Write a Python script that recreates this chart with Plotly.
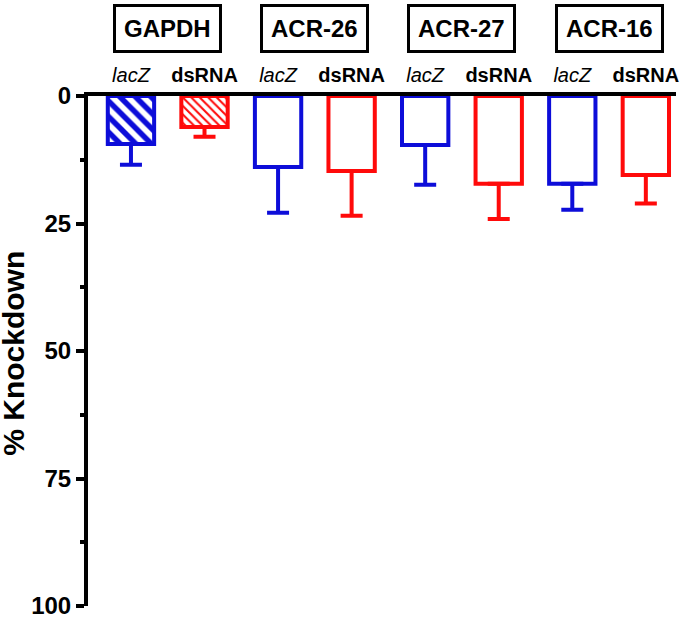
import plotly.graph_objects as go

groups = ["GAPDH", "ACR-26", "ACR-27", "ACR-16"]
conditions = ["lacZ", "dsRNA"]
lacz_mean = [9.4, 13.9, 9.6, 17.2]
lacz_err = [4.1, 9.0, 7.8, 5.1]
dsrna_mean = [6.1, 14.7, 17.2, 15.5]
dsrna_err = [1.9, 8.8, 6.9, 5.6]
y_ticks = [0, 25, 50, 75, 100]

blue = "#0d0dd9"
red = "#ff0a0a"
font_family = "Arial, Liberation Sans, sans-serif"

lacz_x = [2 * i for i in range(len(groups))]
dsrna_x = [2 * i + 1 for i in range(len(groups))]


def bar_trace(x, y, err, color, size, solidity):
    return go.Bar(
        x=x,
        y=y,
        width=0.63,
        marker=dict(
            color="white",
            line=dict(color=color, width=4),
            pattern=dict(
                shape=["\\", "", "", ""],
                fgcolor=color,
                fgopacity=1,
                bgcolor="white",
                size=size,
                solidity=solidity
            )
        ),
        error_y=dict(
            type="data",
            symmetric=False,
            array=err,
            arrayminus=[0] * len(err),
            color=color,
            thickness=4,
            width=11
        ),
        showlegend=False
    )


fig = go.Figure()
fig.add_trace(bar_trace(lacz_x, lacz_mean, lacz_err, blue, 11, 0.5))
fig.add_trace(bar_trace(dsrna_x, dsrna_mean, dsrna_err, red, 6, 0.35))

tick_text = []
for g in groups:
    tick_text += ["<i>lacZ</i>", "<b>dsRNA</b>"]

fig.update_xaxes(
    side="top",
    range=[-0.584, 7.41],
    tickvals=list(range(2 * len(groups))),
    ticktext=tick_text,
    tickfont=dict(family=font_family, size=20, color="black"),
    ticks="",
    ticklabelstandoff=2,
    showline=True,
    linecolor="black",
    linewidth=4,
    showgrid=False,
    zeroline=False,
    automargin=False
)
fig.update_yaxes(
    range=[100, 0],
    tickvals=y_ticks,
    ticktext=[f"<b>{v}</b>" for v in y_ticks],
    tickfont=dict(family=font_family, size=24, color="black"),
    ticklabeloverflow="allow",
    ticks="outside",
    ticklen=8,
    tickwidth=4,
    tickcolor="black",
    minor=dict(
        tick0=0,
        dtick=12.5,
        ticks="outside",
        ticklen=4,
        tickwidth=4,
        tickcolor="black"
    ),
    showline=True,
    linecolor="black",
    linewidth=4,
    showgrid=False,
    zeroline=False,
    automargin=False
)

for i, g in enumerate(groups):
    fig.add_annotation(
        x=2 * i + 0.5,
        y=1.133,
        xref="x",
        yref="paper",
        yanchor="middle",
        text=f"<b>{g}</b>",
        showarrow=False,
        font=dict(family=font_family, size=24, color="black"),
        bordercolor="black",
        borderwidth=3,
        borderpad=8,
        bgcolor="white"
    )

fig.add_annotation(
    x=-0.128,
    y=0.496,
    xref="paper",
    yref="paper",
    text="<b>% Knockdown</b>",
    textangle=-90,
    showarrow=False,
    xanchor="center",
    yanchor="middle",
    font=dict(family=font_family, size=30, color="black")
)

fig.update_layout(
    width=680,
    height=618,
    margin=dict(l=88, r=4, t=96, b=12),
    plot_bgcolor="white",
    paper_bgcolor="white",
    barmode="overlay"
)

# drop the default body margin so the figure sits at the page corner
fig.write_html(
    "out.html",
    config={"displayModeBar": False},
    post_script="document.body.style.margin='0px';"
)
